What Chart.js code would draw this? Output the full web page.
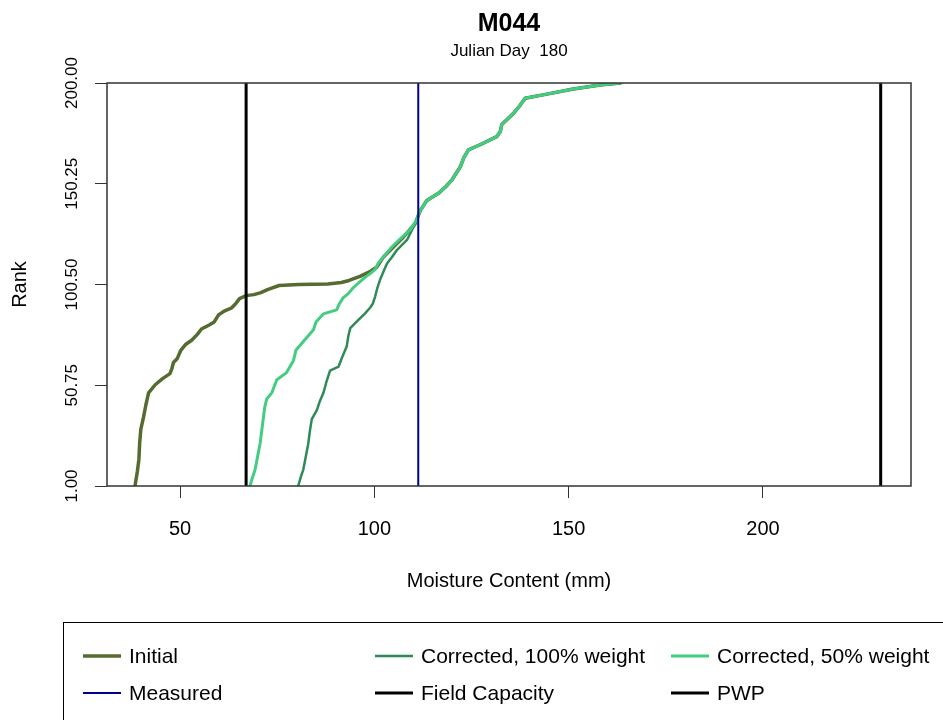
<!DOCTYPE html>
<html>
<head>
<meta charset="utf-8">
<title>M044 rank plot</title>
<script src="https://cdn.jsdelivr.net/npm/chart.js@4/dist/chart.umd.min.js"></script>
<style>
  html, body { margin: 0; padding: 0; background: #fff; }
  #wrap { width: 943px; height: 720px; }
</style>
</head>
<body>
<div id="wrap"><canvas id="rankChart" width="943" height="720"></canvas></div>
<script>
// ---- data ----
const chartTitle = 'M044';
const chartSubtitle = 'Julian Day  180';

// lower parts of the three curves (rank -> moisture, mm)
const initialRank     = [1, 8, 14, 22, 29, 35, 41, 47, 51, 54, 56.5, 59, 62, 64, 68, 71, 73, 76, 78.5, 80.5, 82, 85.5, 87.5, 89, 91, 93.5, 95, 95.5, 96.5, 98, 100, 100.5, 100.8, 101.5, 102.5, 104.5, 107, 109, 114, 119, 124, 130.5];
const initialMoisture = [38.4, 39.0, 39.4, 39.6, 39.9, 40.6, 41.2, 41.9, 43.6, 45.5, 47.4, 47.9, 48.3, 49.3, 50.2, 51.5, 53.0, 54.5, 55.5, 57.5, 58.8, 59.9, 61.5, 63.3, 64.3, 65.3, 67.0, 69.0, 70.8, 72.5, 75.5, 80.5, 88.0, 91.5, 93.5, 96.3, 99.0, 100.6, 102.3, 104.9, 107.5, 110.5];

const corr100Rank     = [1, 5, 9, 15, 22, 28, 34, 38.5, 43, 47, 52, 58, 60, 65, 70, 75, 79, 83, 86, 89, 91, 94.5, 99, 103, 108, 111, 114, 117.5, 122.5, 129];
const corr100Moisture = [80.4, 81.0, 81.7, 82.3, 83.0, 83.4, 83.9, 85.2, 86.0, 86.9, 87.6, 88.6, 90.8, 91.8, 92.9, 93.3, 93.8, 95.9, 97.5, 98.9, 99.6, 100.2, 100.8, 101.5, 102.6, 103.3, 104.5, 105.8, 108.4, 110.1];

const corr50Rank      = [1, 5, 9, 16, 22, 28, 34, 40, 44, 47, 50, 53.5, 57, 60, 63, 68, 73, 78, 82, 86, 88, 91, 94, 96, 99, 101, 104, 106, 108, 111, 114, 119, 124, 127.5];
const corr50Moisture  = [68.0, 68.6, 69.3, 70.0, 70.6, 71.0, 71.4, 71.8, 72.3, 73.6, 74.2, 74.9, 77.4, 78.3, 79.2, 79.8, 82.0, 84.3, 85.0, 86.9, 90.3, 91.0, 92.0, 93.3, 94.6, 95.8, 97.6, 99.0, 100.2, 101.0, 102.3, 104.5, 107.2, 109.2];

// upper part where all three curves coincide
const upperRank     = [132.5, 137, 142, 145.5, 149, 152, 158.5, 163, 167, 169.5, 173.5, 176, 179.5, 185, 189, 192.5, 194.5, 197, 199, 200];
const upperMoisture = [110.9, 111.8, 113.5, 116.5, 118.5, 119.9, 122.1, 123.0, 124.2, 127.2, 131.5, 132.4, 132.8, 135.8, 137.5, 138.8, 144.4, 151.2, 158.1, 163.3];

// reference levels (mm)
const measured = 111.3;
const fieldCapacity = 67.0;
const pwp = 230.3;

// axes
const xMin = 31.2, xMax = 238.1;
const rankMin = 1, rankMax = 200;
const xTicks = [50, 100, 150, 200];
const yTicks = [1, 50.75, 100.5, 150.25, 200];

// ---- helpers ----
function toPoints(ranks, moist) {
  return ranks.map((r, i) => ({ x: moist[i], y: r }));
}
function curve(ranks, moist) {
  return toPoints(ranks, moist).concat(toPoints(upperRank, upperMoisture));
}
function vline(v) {
  return [{ x: v, y: rankMin }, { x: v, y: rankMax }];
}

const FONT = '"Liberation Sans", Arial, sans-serif';
Chart.defaults.font.family = FONT;
Chart.defaults.color = '#000';

// title, frame and the boxed legend under the plot
const decorPlugin = {
  id: 'decor',
  afterDraw(chart) {
    const { ctx, chartArea: a } = chart;
    ctx.save();
    ctx.strokeStyle = '#333';
    ctx.lineWidth = 1.5;
    ctx.strokeRect(a.left, a.top, a.right - a.left, a.bottom - a.top);

    const cx = (a.left + a.right) / 2;
    ctx.fillStyle = '#000';
    ctx.textAlign = 'center';
    ctx.textBaseline = 'middle';
    ctx.font = 'bold 25px ' + FONT;
    ctx.fillText(chartTitle, cx, 24);
    ctx.font = '17px ' + FONT;
    ctx.fillText(chartSubtitle, cx, 51);

    // legend
    ctx.strokeStyle = '#000';
    ctx.lineWidth = 1;
    ctx.strokeRect(63.5, 622.5, 960, 200);
    const colX = [83, 375, 671];
    const rowY = [656, 693];
    ctx.font = '21px ' + FONT;
    ctx.textAlign = 'left';
    chart.data.datasets.forEach((ds, i) => {
      const x = colX[i % 3], y = rowY[Math.floor(i / 3)];
      ctx.strokeStyle = ds.borderColor;
      ctx.lineWidth = ds.borderWidth;
      ctx.beginPath();
      ctx.moveTo(x, y);
      ctx.lineTo(x + 38, y);
      ctx.stroke();
      ctx.fillStyle = '#000';
      ctx.fillText(ds.label, x + 46, y + 1);
    });
    ctx.restore();
  }
};

const lineStyle = { pointRadius: 0, tension: 0, fill: false, borderCapStyle: 'round', borderJoinStyle: 'round' };

new Chart(document.getElementById('rankChart'), {
  type: 'line',
  data: {
    datasets: [
      { label: 'Initial', data: curve(initialRank, initialMoisture), borderColor: '#556B2F', borderWidth: 3.5, order: 3, ...lineStyle },
      { label: 'Corrected, 100% weight', data: curve(corr100Rank, corr100Moisture), borderColor: '#2E8B57', borderWidth: 2.5, order: 2, ...lineStyle },
      { label: 'Corrected, 50% weight', data: curve(corr50Rank, corr50Moisture), borderColor: '#43CD80', borderWidth: 3, order: 1, ...lineStyle },
      { label: 'Measured', data: vline(measured), borderColor: '#00008B', borderWidth: 2, order: 0, ...lineStyle },
      { label: 'Field Capacity', data: vline(fieldCapacity), borderColor: '#000000', borderWidth: 3, order: 0, ...lineStyle },
      { label: 'PWP', data: vline(pwp), borderColor: '#000000', borderWidth: 3, order: 0, ...lineStyle }
    ]
  },
  options: {
    responsive: false,
    animation: false,
    devicePixelRatio: 1,
    layout: { padding: { top: 83, right: 32, bottom: 0, left: 0 } },
    plugins: { legend: { display: false }, tooltip: { enabled: false } },
    scales: {
      x: {
        type: 'linear',
        min: xMin,
        max: xMax,
        afterBuildTicks: s => { s.ticks = xTicks.map(v => ({ value: v })); },
        afterFit: s => { s.height = 234; },
        grid: { drawOnChartArea: false, tickLength: 12, color: '#333' },
        border: { display: false },
        ticks: { font: { size: 20 }, color: '#000', padding: 19, maxRotation: 0, callback: v => String(v) },
        title: { display: true, text: 'Moisture Content (mm)', font: { size: 20 }, color: '#000', padding: { top: 0, bottom: 127 } }
      },
      y: {
        type: 'linear',
        min: rankMin,
        max: rankMax,
        afterBuildTicks: s => { s.ticks = yTicks.map(v => ({ value: v })); },
        afterFit: s => { s.width = 107; },
        grid: { drawOnChartArea: false, tickLength: 12, color: '#333' },
        border: { display: false },
        ticks: { font: { size: 17 }, color: '#000', padding: -3, minRotation: 90, maxRotation: 90, crossAlign: 'center', callback: v => v.toFixed(2) },
        title: { display: true, text: 'Rank', font: { size: 20 }, color: '#000', padding: { top: 8, bottom: 0 } }
      }
    }
  },
  plugins: [decorPlugin]
});
</script>
</body>
</html>
